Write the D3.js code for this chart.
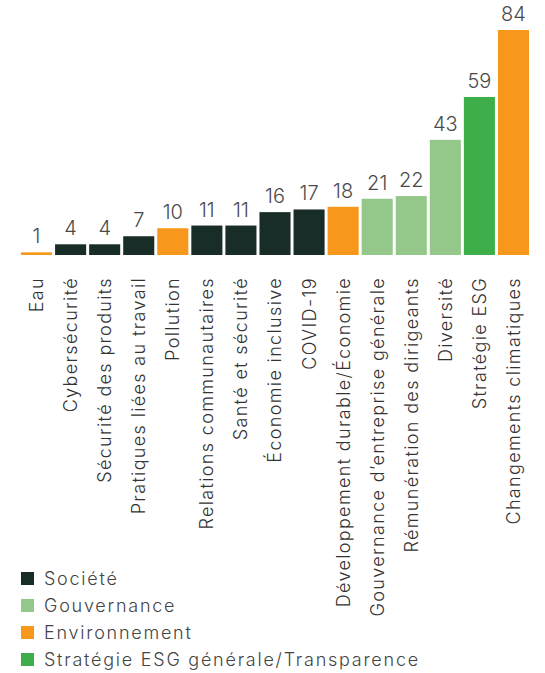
<!DOCTYPE html>
<html lang="fr">
<head>
    <meta charset="UTF-8">
    <title>Sujets ESG</title>
    <script src="https://cdn.jsdelivr.net/npm/d3@7"></script>
    <style>
        body { margin: 0; background: #fff; }
        text { font-family: Inter, "Noto Sans", sans-serif; font-weight: 300; }
        .value { font-size: 20px; fill: #4a4a4a; }
        .cat { font-size: 18px; letter-spacing: 1.35px; fill: #333; }
        .legend text { font-size: 18px; letter-spacing: 1.75px; fill: #444; }
    </style>
</head>
<body>
<script>
    const categories = ['Eau', 'Cybersécurité', 'Sécurité des produits', 'Pratiques liées au travail',
        'Pollution', 'Relations communautaires', 'Santé et sécurité', 'Économie inclusive', 'COVID-19',
        'Développement durable/Économie', 'Gouvernance d\u2019entreprise générale', 'Rémunération des dirigeants',
        'Diversité', 'Stratégie ESG', 'Changements climatiques'];
    const values = [1, 4, 4, 7, 10, 11, 11, 16, 17, 18, 21, 22, 43, 59, 84];
    const groups = ['Environnement', 'Société', 'Société', 'Société', 'Environnement', 'Société', 'Société',
        'Société', 'Société', 'Environnement', 'Gouvernance', 'Gouvernance', 'Gouvernance',
        'Stratégie ESG générale/Transparence', 'Environnement'];
    const legendGroups = ['Société', 'Gouvernance', 'Environnement', 'Stratégie ESG générale/Transparence'];
    const groupColors = ['#182d27', '#94c78a', '#f7981d', '#3dae4a'];

    const w = 545, h = 673;
    const baseY = 255, topY = 30;

    const svg = d3.select('body').append('svg')
        .attr('width', w)
        .attr('height', h);

    const color = d3.scaleOrdinal().domain(legendGroups).range(groupColors);

    const xScale = d3.scaleBand()
        .domain(categories)
        .range([19.5, 530.5])
        .paddingInner(0.088)
        .paddingOuter(0.044);

    const yScale = d3.scaleLinear()
        .domain([0, d3.max(values)])
        .range([baseY, topY]);

    const data = categories.map((c, i) => ({ cat: c, v: values[i], g: groups[i] }));

    svg.selectAll('rect.bar')
        .data(data)
        .enter()
        .append('rect')
        .attr('class', 'bar')
        .attr('x', d => xScale(d.cat))
        .attr('y', d => yScale(d.v))
        .attr('width', xScale.bandwidth())
        .attr('height', d => baseY - yScale(d.v))
        .attr('fill', d => color(d.g));

    // valeurs au-dessus des barres
    svg.selectAll('text.value')
        .data(data)
        .enter()
        .append('text')
        .attr('class', 'value')
        .attr('x', d => xScale(d.cat) + xScale.bandwidth() / 2)
        .attr('y', d => yScale(d.v) - 9)
        .attr('text-anchor', 'middle')
        .text(d => d.v);

    // axe des catégories, sans traits
    const xAxis = d3.axisBottom(xScale).tickSize(0).tickPadding(0);
    const gx = svg.append('g')
        .attr('transform', 'translate(0,' + baseY + ')')
        .call(xAxis);
    gx.select('.domain').remove();
    gx.attr('font-family', null).attr('font-size', null);
    gx.selectAll('.tick text')
        .attr('class', 'cat')
        .attr('fill', null)
        .attr('transform', 'rotate(-90)')
        .attr('x', -22)
        .attr('y', 0)
        .attr('dy', '0.36em')
        .attr('text-anchor', 'end');

    // légende
    const legend = svg.append('g').attr('class', 'legend')
        .attr('transform', 'translate(21,572)');
    const items = legend.selectAll('g')
        .data(legendGroups)
        .enter()
        .append('g')
        .attr('transform', (d, i) => 'translate(0,' + i * 27 + ')');
    items.append('rect')
        .attr('width', 13)
        .attr('height', 13)
        .attr('fill', d => color(d));
    items.append('text')
        .attr('x', 23)
        .attr('y', 6.5)
        .attr('dy', '0.36em')
        .text(d => d);
</script>
</body>
</html>
